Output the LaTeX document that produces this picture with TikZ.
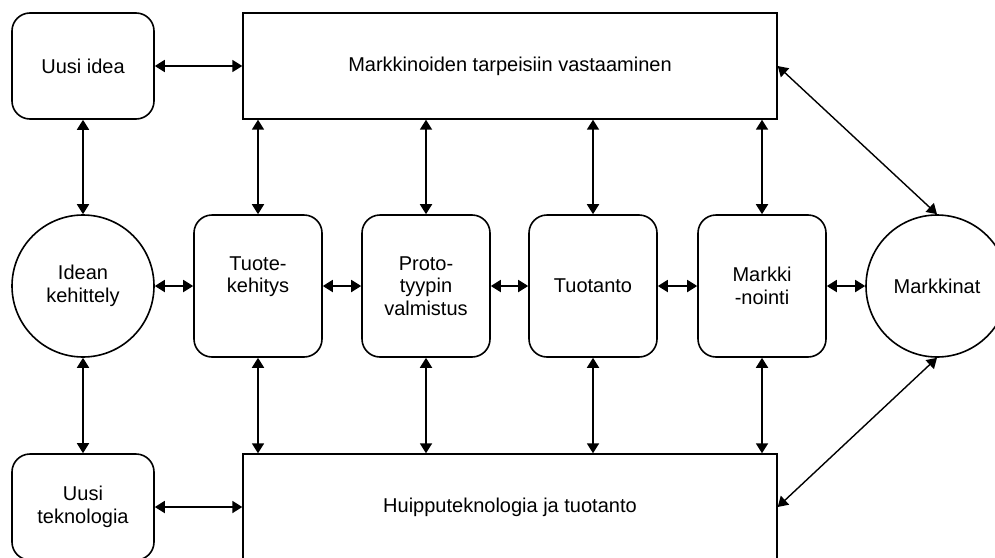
\documentclass[tikz,border=0pt]{standalone}
\usepackage{fontspec}
\setmainfont{Liberation Sans}
\usetikzlibrary{arrows.meta}

\begin{document}
\begin{tikzpicture}[x=1pt,y=-1pt,
  font=\fontsize{20}{22.5}\selectfont,
  side box/.style={draw,line width=1.6pt,rounded corners=18pt,align=center,
    minimum width=142pt,minimum height=106pt,inner sep=0pt},
  step box/.style={draw,line width=1.6pt,rounded corners=18pt,align=center,
    minimum width=128pt,minimum height=142pt,inner sep=0pt},
  wide box/.style={draw,line width=1.4pt,minimum width=534pt,minimum height=106pt},
  ring/.style={draw,circle,line width=1.6pt,minimum size=142pt,inner sep=0pt,align=center},
  link/.style={{Triangle[length=10pt,width=12pt]}-{Triangle[length=10pt,width=12pt]},line width=1.8pt}]

  \useasboundingbox (0,0) rectangle (995,557);

  % Ideas and technology
  \node[side box] (idea) at (83,66) {Uusi idea};
  \node[side box] (tekn) at (83,507) {Uusi\\teknologia};
  \node[ring] (devel) at (83,286) {Idean\\kehittely};

  % Market side
  \node[wide box] (needs) at (510,66) {Markkinoiden tarpeisiin vastaaminen};
  \node[wide box] (tech) at (510,507) {Huipputeknologia ja tuotanto};
  \node[ring] (market) at (937,286) {Markkinat};

  % Process steps
  \foreach \name/\x/\txt in {tk/258/{Tuote-\\kehitys\\~}, pv/426/{Proto-\\tyypin\\valmistus},
                             tu/593/{Tuotanto}, ma/762/{Markki\\-nointi}}
      {\node[step box] (\name) at (\x,286) {\txt};}

  % Vertical flows
  \foreach \name in {tk,pv,tu,ma}
      {\draw[link] (\name) -- (needs.south -| \name);
       \draw[link] (\name) -- (tech.north -| \name);}

  % Horizontal flows
  \foreach \a/\b in {devel/tk, tk/pv, pv/tu, tu/ma, ma/market}
      {\draw[link] (\a) -- (\b);}
  \draw[link] (idea) -- (needs);
  \draw[link] (tekn) -- (tech);
  \draw[link] (idea) -- (devel);
  \draw[link] (tekn) -- (devel);

  % Diagonals to the market
  \draw[link,line width=1.4pt] (market.north) -- (needs.east);
  \draw[link,line width=1.4pt] (market.south) -- (tech.east);

\end{tikzpicture}
\end{document}
